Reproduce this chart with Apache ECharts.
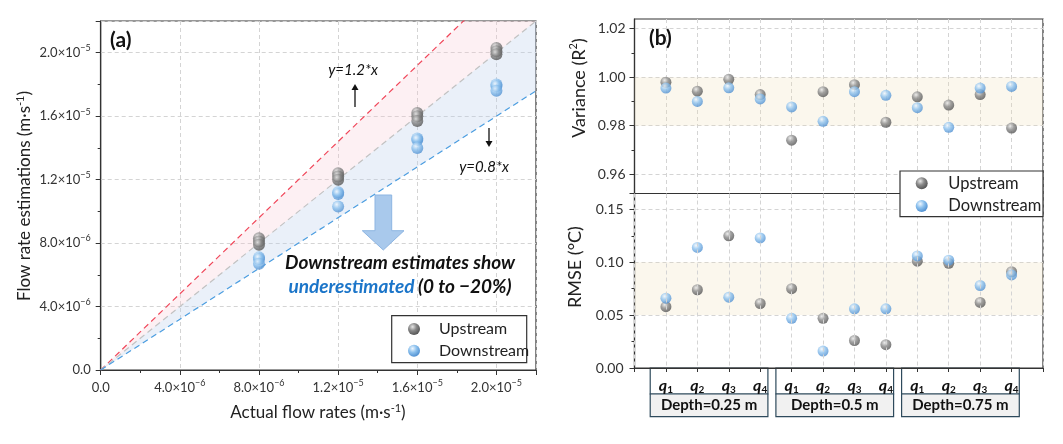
<!DOCTYPE html>
<html>
<head>
<meta charset="utf-8">
<script src="https://cdn.jsdelivr.net/npm/echarts@6.0.0/dist/echarts.min.js"></script>
<style>
html, body { margin: 0; padding: 0; background: #fff; }
#main { width: 1063px; height: 444px; }
</style>
</head>
<body>
<div id="main"></div>
<script>
// ---- panel (a): flow rate estimations ----
var flowRates = [8e-6, 1.2e-5, 1.6e-5, 2.0e-5];
// one value per depth (0.25, 0.5, 0.75 m) for each actual flow rate
var estUpstream = [
    [8.3e-6, 8.1e-6, 7.9e-6],
    [12.4e-6, 12.2e-6, 12.0e-6],
    [16.2e-6, 16.0e-6, 15.7e-6],
    [20.3e-6, 20.1e-6, 19.9e-6]
];
var estDownstream = [
    [7.1e-6, 7.0e-6, 6.7e-6],
    [11.2e-6, 11.1e-6, 10.3e-6],
    [14.6e-6, 14.5e-6, 14.0e-6],
    [18.0e-6, 17.9e-6, 17.6e-6]
];
var refSlopes = [1.2, 1.0, 0.8];
var refColors = ["#f0475a", "#c2c2c2", "#4b9de0"];
var refX = [0, 2.2e-5];

// ---- panel (b): variance and RMSE ----
var depthLabels = ["Depth=0.25 m", "Depth=0.5 m", "Depth=0.75 m"];
var qNames = ["1", "2", "3", "4"];
var r2Up = [0.9979, 0.9942, 0.9991, 0.9928, 0.9740, 0.9940, 0.9969, 0.9814, 0.9919, 0.9885, 0.9928, 0.9790];
var r2Down = [0.9955, 0.9900, 0.9956, 0.9910, 0.9877, 0.9818, 0.9940, 0.9925, 0.9874, 0.9793, 0.9955, 0.9962];
var rmseUp = [0.058, 0.074, 0.125, 0.061, 0.075, 0.047, 0.026, 0.022, 0.101, 0.099, 0.062, 0.091];
var rmseDown = [0.066, 0.114, 0.067, 0.123, 0.047, 0.016, 0.056, 0.056, 0.106, 0.102, 0.078, 0.088];
var r2Ticks = [0.96, 0.98, 1.00, 1.02];
var r2MinorTicks = [0.97, 0.99, 1.01];
var legendNames = ["Upstream", "Downstream"];

var FONT = 'Lato, "DejaVu Sans", sans-serif';
var AXIS = "#333";
var GRIDLINE = { show: true, lineStyle: { color: "#d4d4d4", type: [4, 3], width: 1 } };
var BAND = "rgba(240,222,180,0.24)";

function sphere(c0, c1, c2) {
    return {
        type: "radial", x: 0.38, y: 0.32, r: 0.72,
        colorStops: [{ offset: 0, color: c0 }, { offset: 0.45, color: c1 }, { offset: 1, color: c2 }]
    };
}
var grayBall = sphere("#e8e8e8", "#8a8a8a", "#505050");
var blueBall = sphere("#f0f7fe", "#8ec2ee", "#4b8ccf");
var balls = [grayBall, blueBall];

function sciLabel(v) {
    if (Math.abs(v) < 1e-12) return "{b|0.0}";
    var e = Math.floor(Math.log10(v) + 1e-9);
    var m = v / Math.pow(10, e);
    return "{b|" + m.toFixed(1) + "×10}{p|−" + (-e) + "}";
}
var sciRich = {
    b: { fontSize: 13, fontFamily: FONT, color: AXIS, lineHeight: 18 },
    p: { fontSize: 9, fontFamily: FONT, color: AXIS, lineHeight: 9, verticalAlign: "top" }
};

var upPts = [], downPts = [];
flowRates.forEach(function (q, i) {
    estUpstream[i].forEach(function (v) { upPts.push([q, v]); });
    estDownstream[i].forEach(function (v) { downPts.push([q, v]); });
});

function bandRender(color) {
    return function (params, api) {
        var x0 = api.value(0), x1 = api.value(1), lo = api.value(2), hi = api.value(3);
        return {
            type: "polygon",
            shape: { points: [api.coord([x0, lo * x0]), api.coord([x1, lo * x1]), api.coord([x1, hi * x1]), api.coord([x0, hi * x0])] },
            style: { fill: color },
            clipPath: { type: "rect", shape: { x: params.coordSys.x, y: params.coordSys.y, width: params.coordSys.width, height: params.coordSys.height } }
        };
    };
}

var chart = echarts.init(document.getElementById("main"));

var option = {
    animation: false,
    backgroundColor: "#fff",
    grid: [
        { left: 100.7, top: 21, width: 435.3, height: 349, show: true, borderColor: AXIS, borderWidth: 1.2, outerBoundsMode: "none" },
        { left: 634.5, top: 19, width: 408.5, height: 174.5, show: true, borderColor: AXIS, borderWidth: 1.2, outerBoundsMode: "none" },
        { left: 634.5, top: 193.5, width: 408.5, height: 174.5, show: true, borderColor: AXIS, borderWidth: 1.2, outerBoundsMode: "none" }
    ],
    xAxis: [
        {
            gridIndex: 0, type: "value", min: 0, max: 2.2e-5, interval: 4e-6,
            axisLine: { lineStyle: { color: AXIS, width: 1.2 } },
            axisTick: { length: 5, lineStyle: { color: AXIS } },
            minorTick: { show: true, splitNumber: 2, length: 3, lineStyle: { color: AXIS } },
            axisLabel: { formatter: sciLabel, rich: sciRich, margin: 9, showMaxLabel: false },
            splitLine: GRIDLINE
        },
        {
            gridIndex: 1, type: "value", min: 0, max: 13, interval: 1,
            axisLine: { lineStyle: { color: AXIS, width: 1.2 } },
            axisTick: { length: 4, lineStyle: { color: AXIS } },
            axisLabel: { show: false },
            splitLine: GRIDLINE
        },
        {
            gridIndex: 2, type: "value", min: 0, max: 13, interval: 1, z: 10,
            axisLine: { lineStyle: { color: AXIS, width: 1.2 } },
            axisTick: { length: 4, lineStyle: { color: AXIS } },
            axisLabel: {
                margin: 9,
                formatter: function (v) {
                    if (v < 1 || v > 12) return "";
                    return "{q|q}{s|" + qNames[(v - 1) % 4] + "}";
                },
                rich: {
                    q: { fontSize: 16, fontFamily: FONT, fontWeight: "bold", fontStyle: "italic", color: "#111", lineHeight: 18 },
                    s: { fontSize: 10, fontFamily: FONT, fontWeight: "bold", color: "#111", lineHeight: 10, verticalAlign: "bottom" }
                }
            },
            splitLine: GRIDLINE
        }
    ],
    yAxis: [
        {
            gridIndex: 0, type: "value", min: 0, max: 2.2e-5, interval: 4e-6,
            axisLine: { lineStyle: { color: AXIS, width: 1.2 } },
            axisTick: { length: 5, lineStyle: { color: AXIS } },
            minorTick: { show: true, splitNumber: 2, length: 3, lineStyle: { color: AXIS } },
            axisLabel: { formatter: sciLabel, rich: sciRich, margin: 10, showMaxLabel: false },
            splitLine: GRIDLINE
        },
        {
            gridIndex: 1, type: "value", min: 0.952, max: 1.024,
            axisLine: { lineStyle: { color: AXIS, width: 1.2 } },
            axisTick: { length: 5, customValues: r2Ticks, lineStyle: { color: AXIS } },
            axisLabel: {
                customValues: r2Ticks, margin: 9, fontSize: 14, fontFamily: FONT, color: AXIS,
                formatter: function (v) { return v.toFixed(2); }
            },
            splitLine: GRIDLINE
        },
        {
            gridIndex: 1, type: "value", min: 0.952, max: 1.024, position: "left",
            axisLine: { show: false },
            axisTick: { length: 3, customValues: r2MinorTicks, lineStyle: { color: AXIS } },
            axisLabel: { show: false },
            splitLine: { show: false }
        },
        {
            gridIndex: 2, type: "value", min: 0, max: 0.165, interval: 0.05,
            axisLine: { lineStyle: { color: AXIS, width: 1.2 } },
            axisTick: { length: 5, lineStyle: { color: AXIS } },
            minorTick: { show: true, splitNumber: 2, length: 3, lineStyle: { color: AXIS } },
            axisLabel: {
                margin: 11, fontSize: 14, fontFamily: FONT, color: AXIS, showMaxLabel: false,
                formatter: function (v) { return v.toFixed(2); }
            },
            splitLine: GRIDLINE
        }
    ],
    series: [
        {
            type: "custom", xAxisIndex: 0, yAxisIndex: 0, silent: true, z: 1,
            data: [[refX[0], refX[1], refSlopes[1], refSlopes[0]]],
            renderItem: bandRender("rgba(246,196,206,0.25)")
        },
        {
            type: "custom", xAxisIndex: 0, yAxisIndex: 0, silent: true, z: 1,
            data: [[refX[0], refX[1], refSlopes[2], refSlopes[1]]],
            renderItem: bandRender("rgba(184,206,234,0.3)")
        }
    ].concat(refSlopes.map(function (s, i) {
        return {
            type: "line", xAxisIndex: 0, yAxisIndex: 0, silent: true, z: 2,
            symbol: "none",
            data: refX.map(function (x) { return [x, s * x]; }),
            lineStyle: { color: refColors[i], width: 1.2, type: [6, 4] }
        };
    })).concat([
        {
            name: "Upstream", type: "scatter", xAxisIndex: 0, yAxisIndex: 0, z: 5,
            symbolSize: 12, itemStyle: { color: grayBall }, data: upPts
        },
        {
            name: "Downstream", type: "scatter", xAxisIndex: 0, yAxisIndex: 0, z: 5,
            symbolSize: 12, itemStyle: { color: blueBall }, data: downPts
        },
        {
            name: "Upstream", type: "scatter", xAxisIndex: 1, yAxisIndex: 1, z: 5,
            symbolSize: 11, itemStyle: { color: grayBall },
            data: r2Up.map(function (v, i) { return [i + 1, v]; }),
            markArea: { silent: true, itemStyle: { color: BAND }, data: [[{ yAxis: 0.98 }, { yAxis: 1.0 }]] }
        },
        {
            name: "Downstream", type: "scatter", xAxisIndex: 1, yAxisIndex: 1, z: 5,
            symbolSize: 11, itemStyle: { color: blueBall },
            data: r2Down.map(function (v, i) { return [i + 1, v]; })
        },
        {
            name: "Upstream", type: "scatter", xAxisIndex: 2, yAxisIndex: 3, z: 5,
            symbolSize: 11, itemStyle: { color: grayBall },
            data: rmseUp.map(function (v, i) { return [i + 1, v]; }),
            markArea: { silent: true, itemStyle: { color: BAND }, data: [[{ yAxis: 0.05 }, { yAxis: 0.10 }]] }
        },
        {
            name: "Downstream", type: "scatter", xAxisIndex: 2, yAxisIndex: 3, z: 5,
            symbolSize: 11, itemStyle: { color: blueBall },
            data: rmseDown.map(function (v, i) { return [i + 1, v]; })
        }
    ])
};
chart.setOption(option);

// annotations, legends and the category boxes under panel (b)
var supRich = function (size) {
    return {
        t: { fontSize: size, fontFamily: FONT, fill: "#222", lineHeight: size + 4 },
        p: { fontSize: Math.round(size * 0.62), fontFamily: FONT, fill: "#222", lineHeight: 8, verticalAlign: "top" }
    };
};
var g = [
    { type: "text", x: 110, y: 40, z: 20, style: { text: "(a)", font: "bold 21px " + FONT, fill: "#111", verticalAlign: "middle" } },
    { type: "text", x: 649, y: 38, z: 20, style: { text: "(b)", font: "bold 21px " + FONT, fill: "#111", verticalAlign: "middle" } },
    { type: "text", x: 353, y: 70, z: 20, style: { text: "y=1.2*x", font: "italic 15px " + FONT, fill: "#111", align: "center", verticalAlign: "middle" } },
    { type: "text", x: 484, y: 166.7, z: 20, style: { text: "y=0.8*x", font: "italic 15px " + FONT, fill: "#111", align: "center", verticalAlign: "middle" } },
    { type: "line", z: 20, shape: { x1: 355, y1: 107, x2: 355, y2: 89 }, style: { stroke: "#111", lineWidth: 1.3 } },
    { type: "polygon", z: 20, shape: { points: [[351.5, 90], [358.5, 90], [355, 84]] }, style: { fill: "#111" } },
    { type: "line", z: 20, shape: { x1: 489, y1: 128, x2: 489, y2: 142 }, style: { stroke: "#111", lineWidth: 1.3 } },
    { type: "polygon", z: 20, shape: { points: [[485.5, 141], [492.5, 141], [489, 147]] }, style: { fill: "#111" } },
    {
        type: "polygon", z: 20,
        shape: { points: [[375, 195], [391.7, 195], [391.7, 230.7], [404, 230.7], [383.3, 250], [362.3, 230.7], [375, 230.7]] },
        style: { fill: "#a9c9ec", stroke: "#8db5e2", lineWidth: 1 }
    },
    { type: "text", x: 400, y: 263, z: 20, style: { text: "Downstream estimates show", font: "italic bold 19px " + FONT, fill: "#111", align: "center", verticalAlign: "middle" } },
    {
        type: "text", x: 400, y: 287, z: 20,
        style: {
            text: "{u|underestimated} {k|(0 to −20%)}", align: "center", verticalAlign: "middle",
            rich: {
                u: { font: "italic bold 19px " + FONT, fill: "#1b75c9" },
                k: { font: "italic bold 19px " + FONT, fill: "#111" }
            }
        }
    },
    {
        type: "text", x: 25, y: 196, rotation: Math.PI / 2, z: 20,
        style: { text: "{t|Flow rate estimations (m·s}{p|-1}{t|)}", align: "center", verticalAlign: "middle", rich: supRich(17) }
    },
    {
        type: "text", x: 318, y: 413, z: 20,
        style: { text: "{t|Actual flow rates (m·s}{p|-1}{t|)}", align: "center", verticalAlign: "middle", rich: supRich(17) }
    },
    {
        type: "text", x: 579, y: 88, rotation: Math.PI / 2, z: 20,
        style: { text: "{t|Variance (R}{p|2}{t|)}", align: "center", verticalAlign: "middle", rich: supRich(18) }
    },
    {
        type: "text", x: 575, y: 267, rotation: Math.PI / 2, z: 20,
        style: { text: "{t|RMSE (°C)}", align: "center", verticalAlign: "middle", rich: supRich(18) }
    }
];

// legend boxes: [left, top, right, bottom, markerX, textX, rowY1, rowY2, fontSize]
var legendBoxes = [
    [391.7, 315.7, 526.7, 362.7, 414, 439, 329, 350.7, 16],
    [900, 171, 1043, 216.7, 921.7, 948.3, 183.3, 206, 16.5]
];
legendBoxes.forEach(function (b) {
    g.push({ type: "rect", z: 30, shape: { x: b[0], y: b[1], width: b[2] - b[0], height: b[3] - b[1] }, style: { fill: "#fff", stroke: "#333", lineWidth: 1.2 } });
    legendNames.forEach(function (name, i) {
        var cy = i === 0 ? b[6] : b[7];
        g.push({ type: "circle", z: 31, shape: { cx: b[4], cy: cy, r: 6 }, style: { fill: balls[i] } });
        g.push({ type: "text", z: 31, x: b[5], y: cy, style: { text: name, font: b[8] + "px " + FONT, fill: "#222", verticalAlign: "middle" } });
    });
});

var axisY = chart.convertToPixel({ yAxisIndex: 3 }, 0);
depthLabels.forEach(function (label, k) {
    var start = k * 4 + 1;
    var xl = chart.convertToPixel({ xAxisIndex: 2 }, start - 0.5);
    var xr = chart.convertToPixel({ xAxisIndex: 2 }, start + 3.5) - 8;
    g.push({ type: "rect", z: -5, shape: { x: xl, y: axisY, width: xr - xl, height: 26 }, style: { fill: "#fff", stroke: "#2e4a5c", lineWidth: 1.2 } });
    g.push({ type: "rect", z: -5, shape: { x: xl, y: axisY + 26, width: xr - xl, height: 22.7 }, style: { fill: "#f1f1f1", stroke: "#2e4a5c", lineWidth: 1.2 } });
    g.push({ type: "text", z: 20, x: (xl + xr) / 2, y: axisY + 37.5, style: { text: label, font: "bold 15px " + FONT, fill: "#111", align: "center", verticalAlign: "middle" } });
});
chart.setOption({ graphic: g });
</script>
</body>
</html>
